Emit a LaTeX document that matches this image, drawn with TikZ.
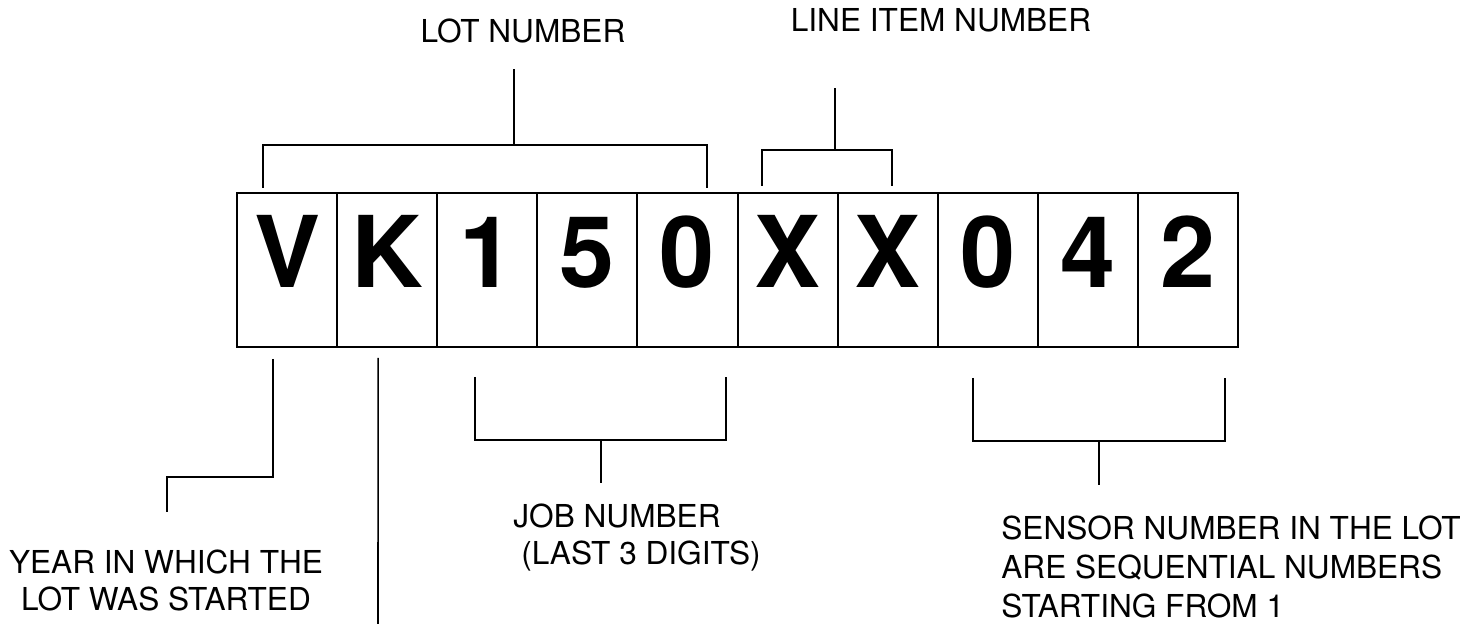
\documentclass[tikz,border=0pt]{standalone}
\usepackage{fontspec}
\setmainfont{TeX Gyre Heros}
\tikzset{
  cellbox/.style={draw, line width=1pt, minimum width=50.05pt, minimum height=77pt, inner sep=0pt, outer sep=0pt},
  glyph/.style={font=\fontsize{49.5}{50}\selectfont\bfseries, inner sep=0pt, anchor=base},
  lbl/.style={font=\fontsize{15.8}{18.5}\selectfont, inner sep=0pt},
  brk/.style={line width=0.8pt}
}
\begin{document}
\begin{tikzpicture}[x=0.5pt, y=-0.5pt]
    \useasboundingbox (0,0) rectangle (1484,624);
    % Code boxes
    \foreach \ch [count=\i] in {V,K,1,5,0,X,X,0,4,2} {
        \node[cellbox] (c\i) at ({237+100.1*(\i-0.5)},270) {};
        \node[glyph] (g\i) at ({237+100.1*(\i-0.5)},288) {\ch};
    }
    % Brackets above
    \coordinate (lotjoin) at (514,145);
    \coordinate (lotstem) at (514,69);
    \draw[brk] ([shift={(-24,-5)}]c1.north) |- (lotjoin) -| ([shift={(19.5,-5)}]c5.north);
    \draw[brk] (lotjoin) -- (lotstem);
    \coordinate (linejoin) at (835,150);
    \coordinate (linestem) at (835,88);
    \draw[brk] ([shift={(-25.6,-7)}]c6.north) |- (linejoin) -| ([shift={(4.3,-7)}]c7.north);
    \draw[brk] (linejoin) -- (linestem);
    % Brackets below
    \coordinate (jobjoin) at (601,440);
    \coordinate (jobstem) at (601,483);
    \draw[brk] ([shift={(-12.3,30)}]c3.south) |- (jobjoin) -| ([shift={(38.5,30)}]c5.south);
    \draw[brk] (jobjoin) -- (jobstem);
    \coordinate (sensjoin) at (1099,441);
    \coordinate (sensstem) at (1099,485);
    \draw[brk] ([shift={(-15,31)}]c8.south) |- (sensjoin) -| ([shift={(37,31)}]c10.south);
    \draw[brk] (sensjoin) -- (sensstem);
    \coordinate (yearbend) at (167,477);
    \coordinate (yearstem) at (167,512);
    \draw[brk] ([shift={(-14,12)}]c1.south) |- (yearbend) -- (yearstem);
    \coordinate (kend) at (378,624);
    \draw[brk] ([shift={(-9,11)}]c2.south) -- (kend);
    % Labels
    \node[lbl, anchor=base] (lotlbl) at (523,43) {LOT NUMBER};
    \node[lbl, anchor=base] (linelbl) at (941,32) {LINE ITEM NUMBER};
    \node[lbl, align=left, anchor=north west] (joblbl) at (513,503) {JOB NUMBER\\\hspace{4pt}(LAST 3 DIGITS)};
    \node[lbl, align=left, anchor=north west, font=\fontsize{15.8}{19.5}\selectfont] (senslbl) at (1001,515) {SENSOR NUMBER IN THE LOT\\ARE SEQUENTIAL NUMBERS\\STARTING FROM 1};
    \node[lbl, align=center, anchor=north] (yearlbl) at (166,549) {YEAR IN WHICH THE\\LOT WAS STARTED};
\end{tikzpicture}
\end{document}
